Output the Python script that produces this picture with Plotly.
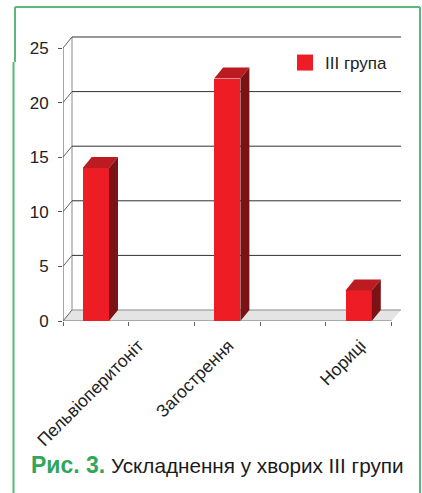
import plotly.graph_objects as go

# --- data ---
category_pos = [1, 3, 5]
categories = ["Пельвіоперитоніт", "Загострення", "Нориці"]
values = [14, 22.2, 2.8]
series_name = "III група"
y_ticks = [0, 5, 10, 15, 20, 25]
caption_bold = "Рис. 3."
caption_text = "Ускладнення у хворих III групи"

# --- layout constants (pixels of the page) ---
W, H = 422, 493
L, R, T, B = 63.0, 401.0, 35.0, 321.0
PX_X = 65.7            # pixels per category
PX_Y = 10.92           # pixels per value unit
DX = 9 / PX_X          # depth offset, x units
DY = 11 / PX_Y         # depth offset, y units
BAR_W = 0.40
XMIN = 0.5
XMAX = XMIN + (R - L) / PX_X
XEND = XMIN + 5
YMAX = (B - T) / PX_Y
label_shift = [0.65, 0.02, 0.03]

RED, RED_TOP, RED_SIDE = "#ee1c25", "#bb1c22", "#7b1216"
GREEN = "#5cb87f"
FONT = "Liberation Sans, Arial, sans-serif"

def px(x):
    return (x - L) / (R - L)

def py(y):
    return 1 - (y - T) / (B - T)

fig = go.Figure()

# front faces
fig.add_bar(x=category_pos, y=values, width=BAR_W, marker=dict(color=RED, line_width=0),
            showlegend=False, hoverinfo="skip")

# top and side faces
for c, v in zip(category_pos, values):
    x0, x1 = c - BAR_W / 2, c + BAR_W / 2
    fig.add_scatter(x=[x0, x1, x1 + DX, x0 + DX, x0], y=[v, v, v + DY, v + DY, v],
                    mode="lines", fill="toself", fillcolor=RED_TOP, line=dict(width=0),
                    showlegend=False, hoverinfo="skip")
    fig.add_scatter(x=[x1, x1 + DX, x1 + DX, x1, x1], y=[0, DY, v + DY, v, 0],
                    mode="lines", fill="toself", fillcolor=RED_SIDE, line=dict(width=0),
                    showlegend=False, hoverinfo="skip")

# legend entry
fig.add_scatter(x=[None], y=[None], mode="markers", name=series_name,
                marker=dict(symbol="square", size=16, color=RED))

shapes = []
# floor
shapes.append(dict(type="path", layer="below", xref="x", yref="y",
                   path=f"M {XMIN} 0 L {XMIN+DX} {DY} L {XMAX} {DY} L {XEND} 0 Z",
                   fillcolor="#e4e4e4", line=dict(width=0)))
# back wall left edge
shapes.append(dict(type="line", layer="below", x0=XMIN + DX, x1=XMIN + DX, y0=DY, y1=25 + DY,
                   line=dict(color="#8a8a8a", width=1)))
# grid lines and their side-wall diagonals
for t in y_ticks:
    col = "#8a8a8a" if t == 0 else "#303030"
    shapes.append(dict(type="line", layer="below", x0=XMIN + DX, x1=XMAX, y0=t + DY, y1=t + DY,
                       line=dict(color=col, width=1)))
    shapes.append(dict(type="line", layer="below", x0=XMIN, x1=XMIN + DX, y0=t, y1=t + DY,
                       line=dict(color="#606060", width=1)))
# front axis lines
shapes.append(dict(type="line", layer="below", x0=XMIN, x1=XMIN, y0=0, y1=25,
                   line=dict(color="#505050", width=1)))
shapes.append(dict(type="line", layer="below", x0=XMIN, x1=XEND, y0=0, y1=0,
                   line=dict(color="#707070", width=1)))

# green frame
for (x0, y0, x1, y1) in [(15, 7, 15, 62), (13.5, 62, 13.5, 493), (15, 7, 420, 7), (420, 7, 420, 493)]:
    shapes.append(dict(type="line", xref="paper", yref="paper", layer="below",
                       x0=px(x0), x1=px(x1), y0=py(y0), y1=py(y1),
                       line=dict(color=GREEN, width=2)))

fig.update_layout(
    width=W, height=H,
    margin=dict(l=L, r=W - R, t=T, b=H - B, pad=0, autoexpand=False),
    paper_bgcolor="white", plot_bgcolor="rgba(0,0,0,0)",
    shapes=shapes,
    bargap=0,
    xaxis=dict(range=[XMIN, XMAX], showgrid=False, zeroline=False, showline=False,
               tickmode="array",
               tickvals=[c + s for c, s in zip(category_pos, label_shift)],
               ticktext=categories, ticks="", tickangle=-45, ticklabelstandoff=10,
               tickfont=dict(family=FONT, size=17.5, color="#222222"),
               minor=dict(tick0=XMIN, dtick=1, ticks="outside", ticklen=4, tickcolor="#606060",
                          showgrid=False),
               fixedrange=True),
    yaxis=dict(range=[0, YMAX], showgrid=False, zeroline=False, showline=False,
               tickmode="array", tickvals=y_ticks, ticks="outside", ticklen=4, tickcolor="#505050",
               ticklabelstandoff=6,
               tickfont=dict(family=FONT, size=17, color="#222222"), fixedrange=True),
    legend=dict(x=px(285), y=py(45), xanchor="left", yanchor="top", bgcolor="rgba(0,0,0,0)",
                font=dict(family=FONT, size=17, color="#222222"), itemwidth=30),
    annotations=[dict(xref="paper", yref="paper", x=px(29), y=py(465), xanchor="left", yanchor="middle",
                      showarrow=False,
                      text=f'<b><span style="color:#2fa65a;font-size:23px">{caption_bold}</span></b> {caption_text}',
                      font=dict(family="Liberation Sans, Arial, sans-serif", size=20.7, color="#1a1a1a"))],
)

fig.write_html("out.html", config={"displayModeBar": False},
               post_script="document.body.style.margin='0';document.body.style.overflow='hidden';")
